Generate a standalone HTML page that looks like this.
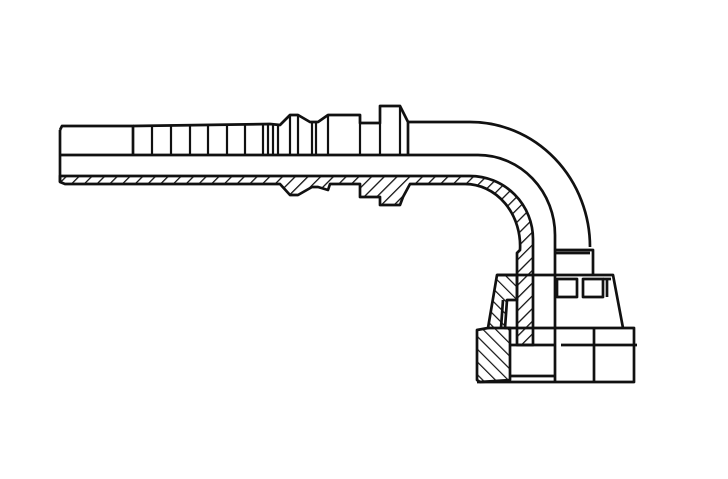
<!DOCTYPE html>
<html><head><meta charset="utf-8"><style>html,body{margin:0;padding:0;background:#fff}svg{display:block}</style></head>
<body>
<svg width="728" height="479" viewBox="0 0 728 479" xmlns="http://www.w3.org/2000/svg">
<defs>
<pattern id="h1" patternUnits="userSpaceOnUse" width="9" height="9" patternTransform="rotate(45)"><line x1="0" y1="0" x2="0" y2="9" stroke="#111" stroke-width="2.6"/></pattern>
<pattern id="h2" patternUnits="userSpaceOnUse" width="9" height="9" patternTransform="rotate(-45)"><line x1="0" y1="0" x2="0" y2="9" stroke="#111" stroke-width="2.4"/></pattern>
</defs>
<g fill="none" stroke="#111" stroke-width="2.7" stroke-linejoin="round">
<path d="M60,176 L470,176 A63,63 0 0 1 533,239 L533,345 L517,345 L517,253 L520,250 A55,62 0 0 0 465,184 L410,184 L403,197 L400,205 L380,205 L380,197 L360,197 L360,184 L330,184 L328,190 L318,187 L312,187 L298,195 L290,195 L280,184 L65,184 L60,182 Z" fill="url(#h1)"/>
<path d="M60,130 L62,126 L133,126 L133,155"/>
<line x1="60" y1="130" x2="60" y2="182"/>
<path d="M133,126 L270,124 L280,125 L290,115 L298,115 L310,122 L318,122 L328,115 L360,115 L360,123 L380,123 L380,106 L400,106 L408,122 L408,155"/>
<g stroke-width="2.2">
<line x1="152" y1="126" x2="152" y2="155"/><line x1="171" y1="126" x2="171" y2="155"/><line x1="190" y1="126" x2="190" y2="155"/><line x1="208" y1="125" x2="208" y2="155"/><line x1="227" y1="125" x2="227" y2="155"/><line x1="245" y1="125" x2="245" y2="155"/>
<line x1="263" y1="125" x2="263" y2="155"/><line x1="268" y1="125" x2="268" y2="155"/><line x1="273" y1="125" x2="273" y2="155"/><line x1="278" y1="125" x2="278" y2="155"/>
<line x1="290" y1="115" x2="290" y2="155"/><line x1="298" y1="115" x2="298" y2="155"/><line x1="312" y1="122" x2="312" y2="155"/><line x1="316" y1="122" x2="316" y2="155"/><line x1="328" y1="115" x2="328" y2="155"/><line x1="360" y1="115" x2="360" y2="155"/><line x1="380" y1="123" x2="380" y2="155"/><line x1="400" y1="106" x2="400" y2="155"/>
</g>
<path d="M60,155 L478,155 A77,80 0 0 1 555,235 L555,383"/>
<path d="M408,122 L470,122 A120,125 0 0 1 590,247"/>
<path d="M555,250 L593,250 L593,275"/>
<line x1="555" y1="253" x2="590" y2="253"/>
<path d="M497,275 L613,275 L623,328"/>
<rect x="557" y="279" width="20" height="18"/><rect x="583" y="279" width="20" height="18"/><line x1="607" y1="279" x2="607" y2="297"/><line x1="603" y1="279" x2="611" y2="279"/>
<path d="M488,328 L634,328 L634,382 L477,382"/>
<line x1="594" y1="328" x2="594" y2="382"/>
<line x1="561" y1="345" x2="637" y2="345"/>
<path d="M497,275 L517,275 L517,300 L507,300 L505,328 L510,328 L510,380 L480,382 L477,380 L477,330 L488,328 Z" fill="url(#h2)"/>
<line x1="503" y1="300" x2="501" y2="328"/>
<path d="M510,345 L555,345"/>
<path d="M510,376 L555,376"/>
</g>
</svg>
</body></html>
